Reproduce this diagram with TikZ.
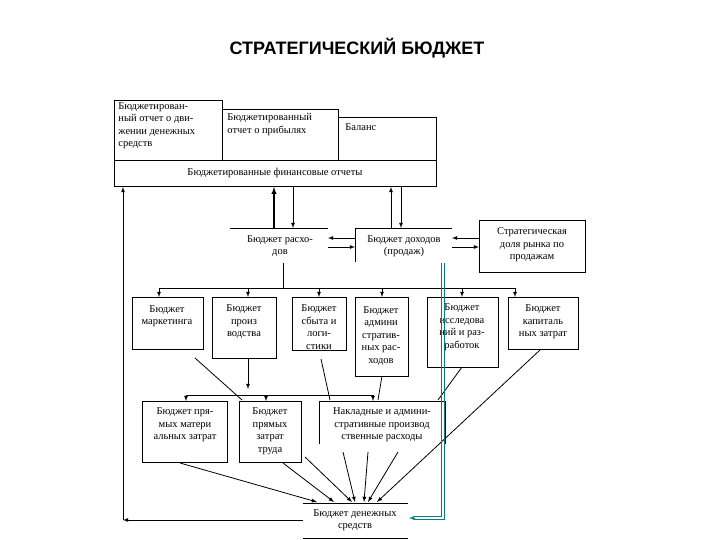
\documentclass[tikz,border=0pt]{standalone}
\usepackage{fontspec}
\setmainfont{Liberation Serif}
\newfontfamily\ttl{Liberation Sans}
\begin{document}
\begin{tikzpicture}[x=1pt,y=-1pt,line width=0.8pt,>=latex,
 tx/.style={font=\fontsize{10.5}{12.5}\selectfont,align=center,inner sep=0},
 ar/.style={->}]
\useasboundingbox (0,0) rectangle (720,540);
\node[font=\ttl\bfseries\fontsize{18}{21}\selectfont] (title) at (357,48) {СТРАТЕГИЧЕСКИЙ БЮДЖЕТ};
% top group
\draw (114,100) rectangle (222,160);
\draw (222,109) rectangle (338,160);
\draw (338,117) rectangle (436,160);
\draw (114,160) rectangle (436,186);
\node[tx,align=left,anchor=north west] (t1) at (118,102) {Бюджетирован-\\ный отчет о дви-\\жении денежных\\средств};
\node[tx,align=left,anchor=north west] (t2) at (227,113) {Бюджетированный\\отчет о прибылях};
\node[tx,anchor=north west] (t3) at (345,123) {Баланс};
\node[tx] (fin) at (275,173) {Бюджетированные финансовые отчеты};
% expense & income
\draw (230,228) -- (328,228);
\node[tx] (exp) at (280,246) {Бюджет расхо-\\дов};
\draw (355,262) -- (355,228) -- (452,228);
\node[tx] (inc) at (404,246) {Бюджет доходов\\(продаж)};
\draw (479,220) rectangle (585,272);
\node[tx] (str) at (532,245) {Стратегическая\\доля рынка по\\продажам};
\draw[ar,line width=1.4pt] (274,228) -- (274,187);
\draw[ar] (293,187) -- (293,228);
\draw[ar] (391,228) -- (391,187);
\draw[ar] (401,187) -- (401,228);
\draw[ar] (355,238) -- (328,238);
\draw[ar] (328,247) -- (355,247);
\draw[ar] (479,238) -- (452,238);
\draw[ar] (452,247) -- (479,247);
% bus 1
\draw (283,263) -- (283,288);
\draw (159,288) -- (515,288);
\foreach \x in {159,248,319,382,462,515} \draw[ar] (\x,288) -- (\x,297);
\draw (132,297) rectangle (203,349);
\node[tx] (b1) at (167,316) {Бюджет\\маркетинга};
\draw (212,297) rectangle (276,358);
\node[tx] (b2) at (244,322) {Бюджет\\произ\\водства};
\draw (292,297) rectangle (346,350);
\node[tx] (b3) at (319,327) {Бюджет\\сбыта и\\логи-\\стики};
\draw (355,297) rectangle (408,376);
\node[tx] (b4) at (381,336) {Бюджет\\админи\\стратив-\\ных рас-\\ходов};
\draw (427,297) rectangle (498,367);
\node[tx] (b5) at (462,327) {Бюджет\\исследова\\ний и раз-\\работок};
\draw (508,297) rectangle (578,349);
\node[tx] (b6) at (543,322) {Бюджет\\капиталь\\ных затрат};
% bus 2
\draw[ar] (248,358) -- (248,389);
\draw (186,395) -- (373,395);
\foreach \x in {186,266,373} \draw[ar] (\x,395) -- (\x,401);
\draw (142,401) rectangle (227,462);
\node[tx] (c1) at (185,425) {Бюджет пря-\\мых матери\\альных затрат};
\draw (239,401) rectangle (301,462);
\node[tx] (c2) at (270,431) {Бюджет\\прямых\\затрат\\труда};
\draw (319,444) -- (319,401) -- (445,401) -- (445,444);
\node[tx] (c3) at (382,425) {Накладные и админи-\\стративные производ\\ственные расходы};
% diagonals
\draw (195,358) -- (242,400);
\draw (321,359) -- (330,400);
\draw (382,376) -- (378,400);
\draw (462,367) -- (438,400);
% cash
\draw (303,503) -- (408,503);
\draw (303,538) -- (408,538);
\node[tx] (cash) at (355,520) {Бюджет денежных\\средств};
\draw[ar] (180,463) -- (317,502);
\draw[ar] (283,463) -- (334,502);
\draw[ar] (305,457) -- (352,502);
\draw[ar] (343,452) -- (355,502);
\draw[ar] (368,452) -- (364,502);
\draw[ar] (398,452) -- (368,502);
\draw[ar] (540,350) -- (377,502);
\coordinate (corner) at (123,520);
\draw[ar] (303,520) -- (corner);
\draw[ar] (corner) -- (123,187);
\coordinate (tl) at (443,263);
\coordinate (te) at (409,518);
\draw[teal,line width=0.8pt] (441.5,263) -- (441.5,516.5) -- (414,516.5);
\draw[teal,line width=0.8pt] (444.5,263) -- (444.5,519.5) -- (414,519.5);
\draw[teal,->,line width=0.8pt] (415,518) -- (te);
\end{tikzpicture}
\end{document}
